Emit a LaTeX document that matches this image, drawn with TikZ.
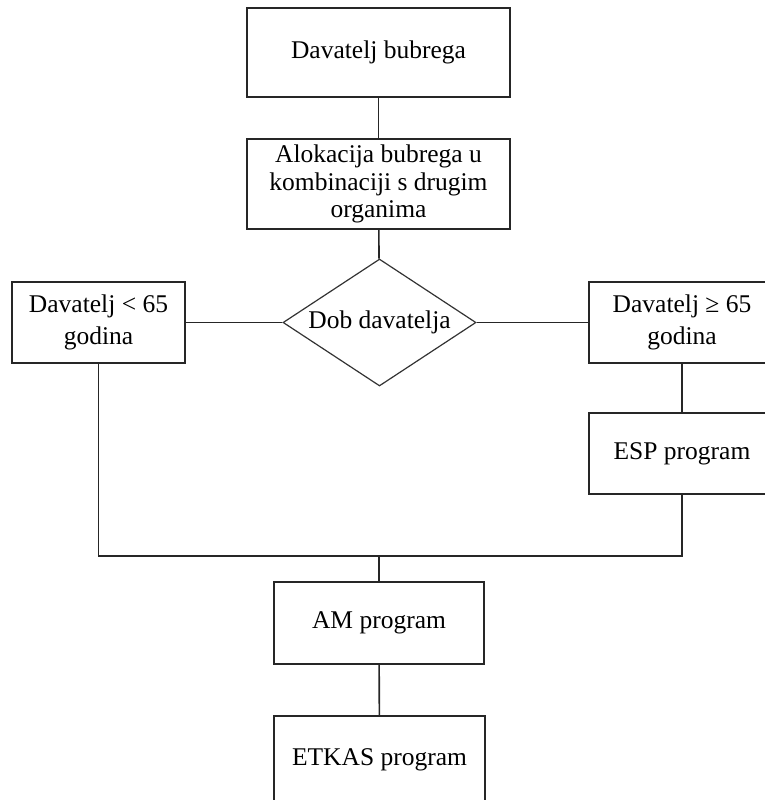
\documentclass[tikz,border=0pt]{standalone}
\usepackage{fontspec}
\setmainfont{Liberation Serif}
\usetikzlibrary{shapes.geometric}

\begin{document}
\begin{tikzpicture}[x=1pt, y=-1pt,
  box/.style={draw=black!85, line width=1.4pt, align=center, inner sep=0pt, font=\fontsize{25.5}{32}\selectfont},
  decision/.style={diamond, draw=black!80, line width=1.2pt, aspect=1.52, inner sep=0pt, minimum width=193pt, minimum height=127pt, font=\fontsize{25.5}{31}\selectfont},
  link/.style={draw=black!85, line width=1.6pt}]
\useasboundingbox (0,0) rectangle (765,800);
\node[box, minimum width=263pt, minimum height=89pt] (donor) at (378.5,52.5) {Davatelj bubrega};
\node[box, minimum width=263pt, minimum height=90pt, font=\fontsize{25.5}{27.5}\selectfont] (alloc) at (378.5,184) {Alokacija bubrega u\\kombinaciji s drugim\\organima};
\node[decision] (age) at (379.5,322.5) {Dob davatelja};
\node[box, minimum width=173pt, minimum height=81pt] (young) at (98.5,322.5) {Davatelj < 65\\godina};
\node[box, minimum width=186pt, minimum height=81pt] (old) at (682,322.5) {Davatelj ≥ 65\\godina};
\node[box, minimum width=186pt, minimum height=81pt] (esp) at (682,453.5) {ESP program};
\node[box, minimum width=210pt, minimum height=82pt] (am) at (379,623) {AM program};
\node[box, minimum width=211pt, minimum height=88pt] (etkas) at (379.5,760) {ETKAS program};
\coordinate (join) at (379,556);
\draw[link] (donor) -- (alloc);
\draw[link] (alloc) -- (age);
\draw[link] (age) -- (young);
\draw[link] (age) -- (old);
\draw[link] (old) -- (esp);
\draw[link] (young.south) |- (join) -| (esp.south);
\draw[link] (join) -- (am);
\draw[link] (am) -- (etkas);
\end{tikzpicture}
\end{document}
